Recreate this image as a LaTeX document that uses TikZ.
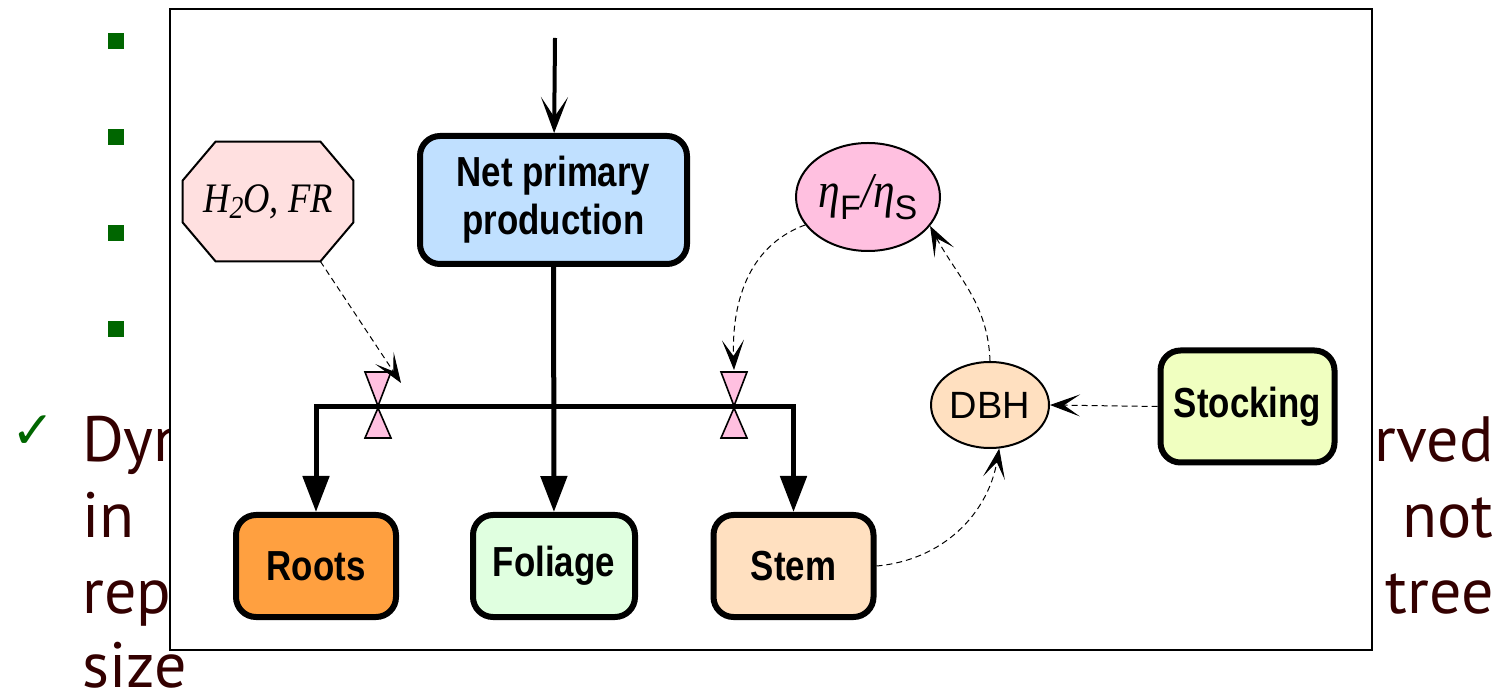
\documentclass[tikz,border=0pt]{standalone}
\usepackage{fontspec}
\setmainfont{Liberation Serif}
\newfontfamily\boxfont[FakeStretch=0.83]{Liberation Sans}
\newfontfamily\plainsans{Liberation Sans}
\newfontfamily\labelserif[FakeStretch=0.87]{Liberation Serif}
\newfontfamily\slidefont{PT Sans}
\newfontfamily\symfont{DejaVu Sans}
\usetikzlibrary{arrows.meta,shapes.geometric,calc,backgrounds}
\definecolor{slidetext}{RGB}{51,0,0}
\definecolor{bulletgreen}{RGB}{0,102,0}
\definecolor{nppfill}{RGB}{192,224,255}
\definecolor{rootfill}{RGB}{255,160,64}
\definecolor{leaffill}{RGB}{224,255,224}
\definecolor{stemfill}{RGB}{255,224,192}
\definecolor{stockfill}{RGB}{240,255,192}
\definecolor{waterfill}{RGB}{255,224,224}
\definecolor{ratiofill}{RGB}{255,192,224}
\definecolor{valvefill}{RGB}{255,192,224}
\newcommand\lowsub[1]{\raisebox{-6pt}{\plainsans\upshape\fontsize{17}{17}\selectfont #1}}
\tikzset{
  compartment/.style={draw,rounded corners=10pt,line width=3pt,align=center,
    font=\boxfont\bfseries\fontsize{21}{24}\selectfont,
    minimum width=80pt,minimum height=51pt,inner sep=0pt},
  driver/.style={draw,ellipse,line width=1pt,inner sep=0pt},
  flow/.style={line width=2.5pt,line join=miter,-{Triangle[length=18pt,width=13pt]}},
  info/.style={line width=0.5pt,dash pattern=on 3pt off 2pt,
    -{Stealth[length=15pt,width=11pt,inset=8pt]}},
  valve/.style={draw,fill=valvefill,line width=0.8pt,line join=miter},
  slide/.style={text=slidetext,font=\slidefont\fontsize{32}{38}\selectfont,inner sep=0pt},
}
\begin{document}
\begin{tikzpicture}[x=0.5pt,y=-0.5pt]
\useasboundingbox (0,0) rectangle (1504,694);
\begin{scope}[on background layer]
% Slide text behind the figure
\foreach \y in {33,129,225,321}
  \fill[bulletgreen] (108,\y) rectangle ++(16,16);
\node[text=bulletgreen,font=\symfont\fontsize{26}{26}\selectfont,inner sep=0pt] (tick) at (33,432) {✓};
\node[slide,anchor=base west] (dyn) at (82,462) {Dyn};
\node[slide,anchor=base west] (in) at (82,538) {in};
\node[slide,anchor=base west] (rep) at (82,613) {rep};
\node[slide,anchor=base west] (size) at (82,687) {size};
\node[slide,anchor=base east] (rved) at (1494,462) {rved};
\node[slide,anchor=base east] (not) at (1494,538) {not};
\node[slide,anchor=base east] (tree) at (1494,613) {tree};
% Frame
\draw[line width=1pt,fill=white] (170,9) rectangle (1372,650);
\end{scope}
% Node: NPP
\node[compartment,fill=nppfill,minimum width=133.5pt,minimum height=64pt] (npp) at (553.5,200)
  {Net primary\\production};
% Node: Roots
\node[compartment,fill=rootfill] (roots) at (316,566) {Roots};
% Node: Foliage
\node[compartment,fill=leaffill,minimum width=81pt] (foliage) at (554,566) {Foliage};
% Node: Stem
\node[compartment,fill=stemfill] (stem) at (793.5,566) {Stem};
% Node: Stocking
\node[compartment,fill=stockfill,minimum width=87pt,minimum height=56pt] (stocking) at (1247.5,406.5) {Stocking};
% Node: H2O
\node[minimum width=85pt,minimum height=59.5pt,inner sep=0pt,
  font=\labelserif\itshape\fontsize{21}{24}\selectfont] (h2o) at (268,201.5) {H\raisebox{-3pt}{\fontsize{16}{16}\selectfont 2}O, FR};
\begin{scope}[on background layer]
  \draw[fill=waterfill,line width=1pt,line join=miter]
    ($(h2o.north west)+(33,0)$) -- ($(h2o.north east)+(-33,0)$)
    -- ($(h2o.north east)+(0,39)$) -- ($(h2o.south east)+(0,-39)$)
    -- ($(h2o.south east)+(-33,0)$) -- ($(h2o.south west)+(33,0)$)
    -- ($(h2o.south west)+(0,-39)$) -- ($(h2o.north west)+(0,39)$) -- cycle;
\end{scope}
\coordinate (h2ocorner) at ($(h2o.south east)+(-33,0)$);
% Node: eta ratio
\node[driver,fill=ratiofill,minimum width=72pt,minimum height=54pt,
  font=\labelserif\itshape\fontsize{25}{28}\selectfont] (eta) at (868,197) {η\lowsub{F}/η\lowsub{S}};
% Node: DBH
\node[driver,fill=stemfill,minimum width=59pt,minimum height=43pt,
  font=\plainsans\fontsize{19}{20}\selectfont] (dbh) at (990,405) {DBH};
% Edge: input -> NPP
\coordinate (input) at (555,38);
\draw[line width=2pt,-{Stealth[length=18pt,width=13.5pt,inset=10pt]}] (input) -- (npp);
% Edge: NPP -> Foliage
\draw[flow] (npp) -- (foliage);
% Edge: bar -> Roots, Stem
\coordinate (bar) at (555,407);
\draw[flow,{Triangle[length=18pt,width=13pt]}-{Triangle[length=18pt,width=13pt]}]
  (roots.north) |- (bar) -| (stem.north);
% Valves
\coordinate (vl) at (378,407);
\coordinate (vr) at (734,407);
\foreach \v in {vl,vr}
  \draw[valve,shift={(\v)}] (-13,-35) -- (13,-35) -- (0,-1) -- cycle
    (0,1) -- (-13,31) -- (13,31) -- cycle;
% Edge: H2O -> left valve
\draw[info] (h2ocorner) -- ($(vl)+(23,-24)$);
% Edge: eta -> right valve
\draw[info] (eta.204) to[out=200,in=92] ($(vr)+(0,-37)$);
% Edge: DBH -> eta
\draw[info] (dbh.north) to[out=92,in=-62] (eta.-25);
% Edge: Stocking -> DBH
\draw[info] (stocking.west) -- (dbh.east);
% Edge: Stem -> DBH
\draw[info] (stem.east) to[out=5,in=-100] (dbh.-78);
\end{tikzpicture}
\end{document}
